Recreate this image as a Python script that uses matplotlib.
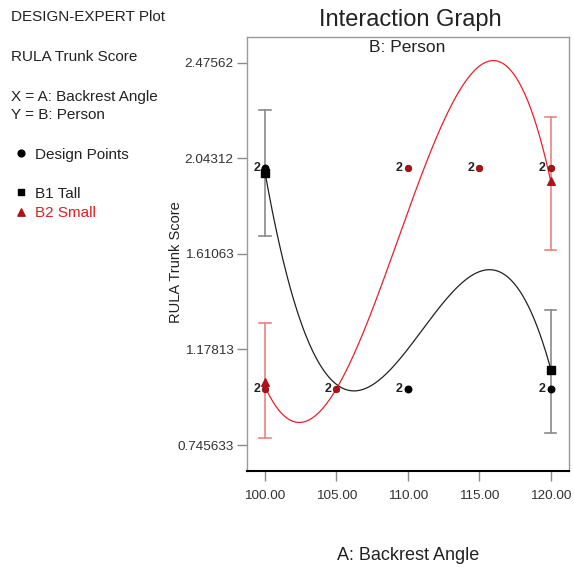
import numpy as np
import matplotlib
matplotlib.use("Agg")
import matplotlib.pyplot as plt

plt.rcParams['font.family'] = ['Liberation Sans', 'DejaVu Sans']

# Factor levels (A: Backrest Angle)
levels = [100, 105, 110, 115, 120]
# Predicted means at each level, per person group
tall_pred = [1.98, 1.02, 1.18, 1.53, 1.09]
small_pred = [1.01, 1.00, 1.80, 2.46, 1.94]

# LSD bars at ends
bar_x = [100, 120]
tall_bar_mid = [1.975, 1.087]
tall_bar_low = [1.69, 0.80]
tall_bar_high = [2.26, 1.356]
small_bar_mid = [1.03, 1.94]
small_bar_low = [0.776, 1.627]
small_bar_high = [1.30, 2.23]

# Design points (x, y, count)
tall_pts_x = [100, 110, 120]
tall_pts_y = [2.0, 1.0, 1.0]
small_pts_x = [100, 105, 110, 115, 120]
small_pts_y = [1.0, 1.0, 2.0, 2.0, 2.0]
pt_count = "2"

yticks = [0.745633, 1.17813, 1.61063, 2.04312, 2.47562]
ytick_labels = ["0.745633", "1.17813", "1.61063", "2.04312", "2.47562"]
xticks = [100, 105, 110, 115, 120]
xtick_labels = ["100.00", "105.00", "110.00", "115.00", "120.00"]

BLACK = "#222222"
RED = "#e8202a"
DARKRED = "#b01018"
GRAY = "#8a8a8a"
LRED = "#f08080"

fig = plt.figure(figsize=(5.74, 5.67), dpi=100)
ax = fig.add_axes([247/574, 1-471/567, 322/574, 434/567])
ax.set_xlim(98.74, 121.28)
ax.set_ylim(0.628, 2.592)

xs = np.linspace(100, 120, 400)
ct = np.polyfit(levels, tall_pred, 4)
cs = np.polyfit(levels, small_pred, 4)
ax.plot(xs, np.polyval(ct, xs), color=BLACK, lw=0.9, zorder=3)
ax.plot(xs, np.polyval(cs, xs), color=RED, lw=0.9, zorder=3)

# error bars
for x, lo, hi in zip(bar_x, tall_bar_low, tall_bar_high):
    ax.plot([x, x], [lo, hi], color=GRAY, lw=1.2, zorder=2)
    ax.plot([x - 0.4, x + 0.4], [lo, lo], color=GRAY, lw=1.2, zorder=2)
    ax.plot([x - 0.4, x + 0.4], [hi, hi], color=GRAY, lw=1.2, zorder=2)
for x, lo, hi in zip(bar_x, small_bar_low, small_bar_high):
    ax.plot([x, x], [lo, hi], color=LRED, lw=1.2, zorder=2)
    ax.plot([x - 0.4, x + 0.4], [lo, lo], color=LRED, lw=1.2, zorder=2)
    ax.plot([x - 0.4, x + 0.4], [hi, hi], color=LRED, lw=1.2, zorder=2)

# design points
ax.scatter(tall_pts_x, tall_pts_y, s=22, color="black", zorder=4)
ax.scatter(small_pts_x, small_pts_y, s=22, color=DARKRED, edgecolor="#700000", lw=0.5, zorder=5)
for x, y in list(zip(tall_pts_x, tall_pts_y)) + list(zip(small_pts_x, small_pts_y)):
    ax.text(x - 0.35, y, pt_count, ha="right", va="center", fontsize=9,
            fontweight="bold", color="#222222", zorder=6)

# mean markers
ax.scatter(bar_x, tall_bar_mid, marker="s", s=30, color="black", zorder=6)
ax.scatter(bar_x, small_bar_mid, marker="^", s=30, color=DARKRED, zorder=6)

ax.set_xticks(xticks)
ax.set_xticklabels(xtick_labels, fontsize=9.7, color="#333333")
ax.set_yticks(yticks)
ax.set_yticklabels(ytick_labels, fontsize=9.7, color="#333333")
ax.tick_params(axis="both", length=7.5, width=1, color=GRAY, direction="out")
ax.tick_params(axis="x", pad=6)
ax.tick_params(axis="y", pad=2)
for s in ["left", "top", "right"]:
    ax.spines[s].set_color("#999999")
    ax.spines[s].set_linewidth(1)
ax.spines["bottom"].set_color("black")
ax.spines["bottom"].set_linewidth(1.5)

ax.set_ylabel("RULA Trunk Score", fontsize=10.5, color="#222222")
ax.yaxis.set_label_coords(-0.198, 0.482)
ax.set_xlabel("A: Backrest Angle", fontsize=13, color="#222222")
ax.xaxis.set_label_coords(0.5, -0.175)

fig.text(410/574, 1-20/567, "Interaction Graph", ha="center", va="center", fontsize=17, color="#222222")
fig.text(407/574, 1-48/567, "B: Person", ha="center", va="center", fontsize=12.5, color="#222222")

# left annotations
fs = 11
fig.text(11/574, 1-17/567, "DESIGN-EXPERT Plot", fontsize=fs, va="center", color="#222222")
fig.text(11/574, 1-57/567, "RULA Trunk Score", fontsize=fs, va="center", color="#222222")
fig.text(11/574, 1-97/567, "X = A: Backrest Angle", fontsize=fs, va="center", color="#222222")
fig.text(11/574, 1-115/567, "Y = B: Person", fontsize=fs, va="center", color="#222222")
fig.text(35/574, 1-155/567, "Design Points", fontsize=fs, va="center", color="#222222")
fig.text(35/574, 1-194/567, "B1 Tall", fontsize=fs, va="center", color="#222222")
fig.text(35/574, 1-213/567, "B2 Small", fontsize=fs, va="center", color="#e02020")
lax = fig.add_axes([0, 0, 1, 1], facecolor="none")
lax.set_xlim(0, 574); lax.set_ylim(567, 0); lax.axis("off")
lax.scatter([21], [153], s=24, color="black")
lax.scatter([21], [192], marker="s", s=24, color="black")
lax.scatter([21], [212], marker="^", s=28, color=DARKRED)

fig.savefig("out.png", dpi=100)
